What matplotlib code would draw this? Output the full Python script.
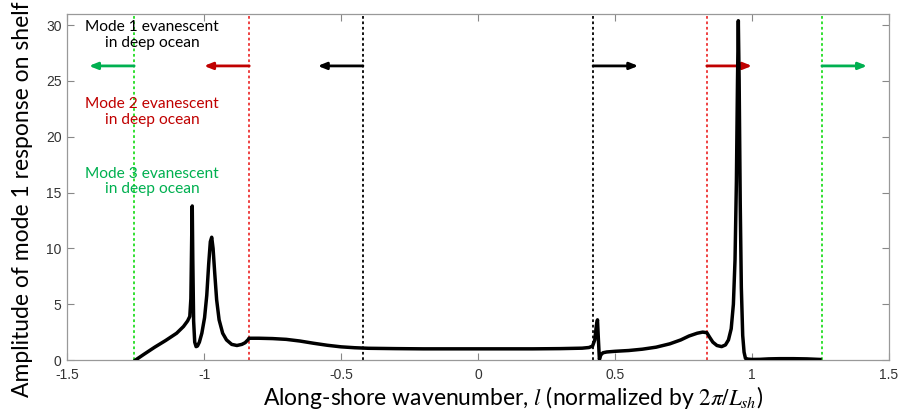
import matplotlib
matplotlib.use("Agg")
import matplotlib.pyplot as plt

# amplitude of mode-1 shelf response vs along-shore wavenumber
l_vals = [-1.250, -1.22, -1.18, -1.14, -1.10, -1.075, -1.060, -1.052, -1.048, -1.045,
          -1.043, -1.041, -1.038, -1.034, -1.029, -1.024, -1.017, -1.008, -0.998, -0.990,
          -0.983, -0.977, -0.972, -0.967, -0.961, -0.954, -0.945, -0.932, -0.918, -0.899,
          -0.880, -0.862, -0.850, -0.838, -0.836, -0.80, -0.75, -0.70, -0.65, -0.60,
          -0.55, -0.50, -0.45, -0.40, -0.30, -0.20, 0.0, 0.20, 0.30, 0.38,
          0.405, 0.418, 0.426, 0.432, 0.436, 0.439, 0.443, 0.448, 0.456, 0.470,
          0.50, 0.55, 0.60, 0.65, 0.70, 0.74, 0.77, 0.80, 0.82, 0.835,
          0.845, 0.857, 0.872, 0.889, 0.903, 0.914, 0.924, 0.932, 0.938, 0.943,
          0.947, 0.950, 0.953, 0.957, 0.961, 0.966, 0.971, 0.976, 0.985, 1.00,
          1.03, 1.06, 1.10, 1.15, 1.20, 1.248]
amplitude = [0.00, 0.50, 1.15, 1.75, 2.40, 3.00, 3.50, 3.90, 5.5, 11.0,
             13.8, 9.0, 3.5, 1.6, 1.2, 1.25, 1.6, 2.4, 3.8, 5.8,
             8.6, 10.6, 11.0, 10.0, 7.8, 5.4, 3.6, 2.4, 1.8, 1.40,
             1.30, 1.40, 1.55, 1.85, 1.95, 1.95, 1.92, 1.85, 1.70, 1.50,
             1.32, 1.18, 1.10, 1.05, 1.02, 1.00, 1.00, 1.00, 1.02, 1.06,
             1.12, 1.25, 1.80, 3.10, 3.60, 2.00, 0.05, 0.45, 0.65, 0.72,
             0.78, 0.85, 0.97, 1.15, 1.45, 1.80, 2.15, 2.40, 2.50, 2.45,
             2.05, 1.60, 1.30, 1.20, 1.35, 1.80, 2.80, 5.0, 9.0, 16.0,
             25.0, 30.4, 25.0, 14.0, 6.5, 2.2, 0.7, 0.15, 0.08, 0.05,
             0.06, 0.10, 0.12, 0.12, 0.10, 0.05]

# cut-off wavenumbers of each deep-ocean mode
cutoffs = [0.42, 0.835, 1.255]
cutoff_colors = ["black", "#EE3333", "#22DD22"]
arrow_colors = ["black", "#C00000", "#00B050"]
arrow_len = 0.165
arrow_y = 26.35

labels = ["Mode 1 evanescent\nin deep ocean",
          "Mode 2 evanescent\nin deep ocean",
          "Mode 3 evanescent\nin deep ocean"]
label_y = [29.1, 22.2, 16.0]

plt.rcParams["mathtext.fontset"] = "stix"

fig = plt.figure(figsize=(9.01, 4.16), dpi=100)
ax = fig.add_axes([0.0744, 0.1346, 0.9123, 0.8317])

for c, lc, ac in zip(cutoffs, cutoff_colors, arrow_colors):
    for s in (-1, 1):
        ax.axvline(s * c, color=lc, linestyle=(0, (1.5, 1.5)), linewidth=1.3, zorder=1)
        ax.annotate("", xy=(s * (c + arrow_len), arrow_y), xytext=(s * c, arrow_y),
                    arrowprops=dict(arrowstyle="-|>,head_length=0.5,head_width=0.2",
                                    color=ac, lw=2, shrinkA=0, shrinkB=0))

ax.plot(l_vals, amplitude, color="black", linewidth=2.5, zorder=3)

for txt, yy, ac in zip(labels, label_y, arrow_colors):
    ax.text(-1.19, yy, txt, color=ac, ha="center", va="center",
            fontsize=11.2, family="Lato", linespacing=1.15)

ax.set_xlim(-1.5, 1.5)
ax.set_ylim(0, 31)
ax.set_xticks([-1.5, -1, -0.5, 0, 0.5, 1, 1.5])
ax.set_xticklabels(["-1.5", "-1", "-0.5", "0", "0.5", "1", "1.5"])
ax.set_yticks([0, 5, 10, 15, 20, 25, 30])
ax.tick_params(direction="in", top=True, right=True, length=5, width=0.8,
               color="#888888", labelsize=10, labelcolor="#333333")
ax.tick_params(axis="x", pad=6)
ax.tick_params(axis="y", pad=4)
for lab in ax.get_xticklabels() + ax.get_yticklabels():
    lab.set_family("Liberation Sans")
for sp in ax.spines.values():
    sp.set_color("#999999")
    sp.set_linewidth(0.9)

ax.set_xlabel(r"Along-shore wavenumber, $l$ (normalized by $2\pi/L_{sh}$)",
              fontsize=16.5, family="Lato")
ax.set_ylabel("Amplitude of mode 1 response on shelf", fontsize=16.5,
              family="Lato")
# labels sit a bit off-centre in the original
ax.xaxis.set_label_coords(0.543, -0.068)
ax.yaxis.set_label_coords(-0.041, 0.465)

fig.savefig("out.png", dpi=100)
